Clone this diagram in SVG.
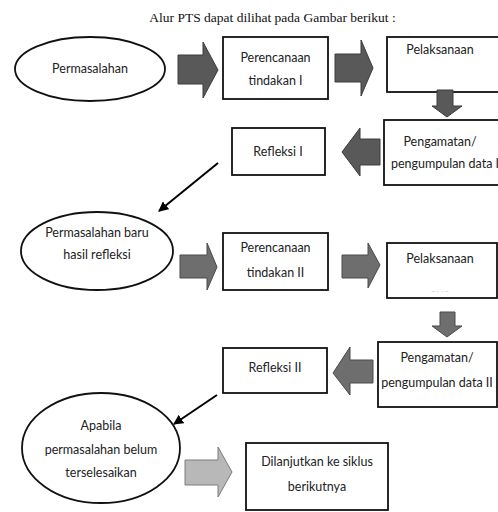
<svg xmlns="http://www.w3.org/2000/svg" width="498" height="512" viewBox="0 0 498 512">
<defs>
<style>
.bx{fill:#fff;stroke:#111;stroke-width:1.8}
.el{fill:#fff;stroke:#111;stroke-width:1.8}
.t{font-family:Lato,"Open Sans","Liberation Sans",sans-serif;font-size:12.5px;fill:#222;text-anchor:middle}
.a1{fill:#595959;stroke:#3c3c3c;stroke-width:1}
.a2{fill:#6e6e6e;stroke:#4a4a4a;stroke-width:1}
.a3{fill:#b8b8b8;stroke:#7c7c7c;stroke-width:1}
.ln{stroke:#000;stroke-width:2;fill:none}
</style>
<marker id="ah" viewBox="0 0 10 10" refX="9" refY="5" markerWidth="5" markerHeight="5" orient="auto">
<path d="M0,0 L10,5 L0,10 z" fill="#000"/>
</marker>
</defs>
<rect width="498" height="512" fill="#fff"/>
<text x="272.5" y="22" font-family="'Liberation Serif',serif" font-size="13.5" text-anchor="middle" fill="#111">Alur PTS dapat dilihat pada Gambar  berikut :</text>

<g id="n-permasalahan"><ellipse class="el" cx="90" cy="69" rx="75" ry="32"/><text class="t" x="90" y="73">Permasalahan</text></g>
<g id="n-perencanaan1"><rect class="bx" x="223" y="37" width="105" height="62"/><text class="t" x="275.5" y="62">Perencanaan</text><text class="t" x="275.5" y="85">tindakan I</text></g>
<g id="n-pelaksanaan1"><rect class="bx" x="387" y="37" width="120" height="55"/><text class="t" x="440" y="54">Pelaksanaan</text></g>
<g id="n-pengamatan1"><rect class="bx" x="384" y="120" width="125" height="65"/><text class="t" x="440" y="146">Pengamatan/</text><text class="t" x="445" y="168">pengumpulan data I</text></g>
<g id="n-refleksi1"><rect class="bx" x="232" y="128" width="93" height="47"/><text class="t" x="278" y="156">Refleksi I</text></g>
<g id="n-permasalahan2"><ellipse class="el" cx="97" cy="251" rx="76" ry="39"/><text class="t" x="97" y="237">Permasalahan baru</text><text class="t" x="97" y="259">hasil refleksi</text></g>
<g id="n-perencanaan2"><rect class="bx" x="223" y="233" width="105" height="57"/><text class="t" x="275.5" y="252">Perencanaan</text><text class="t" x="275.5" y="277">tindakan II</text></g>
<g id="n-pelaksanaan2"><rect class="bx" x="387" y="243" width="110" height="55"/><text class="t" x="440" y="263">Pelaksanaan</text><text x="440" y="292" font-family="Lato,sans-serif" font-size="8" fill="#bbb" text-anchor="middle">..   . .    ..</text></g>
<g id="n-pengamatan2"><rect class="bx" x="378" y="342" width="119" height="65"/><text class="t" x="437" y="362">Pengamatan/</text><text class="t" x="437" y="387">pengumpulan data II</text></g>
<g id="n-refleksi2"><rect class="bx" x="223" y="348" width="104" height="45"/><text class="t" x="275" y="372">Refleksi II</text></g>
<g id="n-apabila"><ellipse class="el" cx="101" cy="448" rx="79" ry="55"/><text class="t" x="101" y="430">Apabila</text><text class="t" x="101" y="454">permasalahan belum</text><text class="t" x="101" y="477">terselesaikan</text></g>
<g id="n-dilanjutkan"><rect class="bx" x="246" y="443" width="142" height="67"/><text class="t" x="317" y="466">Dilanjutkan ke siklus</text><text class="t" x="317" y="491">berikutnya</text></g>

<g id="connectors">
<polygon class="a1" points="178,55 203,55 203,42 218,70 203,98 203,84 178,84"/>
<polygon class="a1" points="335,54 361,54 361,40 373,68 361,96 361,82 335,82"/>
<polygon class="a1" points="437,90 453,90 453,106 462,106 447,117 432,106 437,106"/>
<polygon class="a1" points="380,139 380,165 360,165 360,176 342,152 360,128 360,139"/>
<line class="ln" x1="218" y1="163" x2="159" y2="211" marker-end="url(#ah)"/>
<polygon class="a2" points="180,255 207,255 207,243 217,267 207,290 207,278 180,278"/>
<polygon class="a2" points="342,255 368,255 368,243 380,265 368,288 368,278 342,278"/>
<polygon class="a2" points="440,312 455,312 455,326 462,326 447,337 432,326 440,326"/>
<polygon class="a2" points="373,360 373,383 350,383 350,395 333,373 350,347 350,360"/>
<line class="ln" x1="217" y1="395" x2="174" y2="424" marker-end="url(#ah)"/>
<polygon class="a3" points="185,460 218,460 218,447 232,472 218,497 218,485 185,485"/>
</g>
</svg>
